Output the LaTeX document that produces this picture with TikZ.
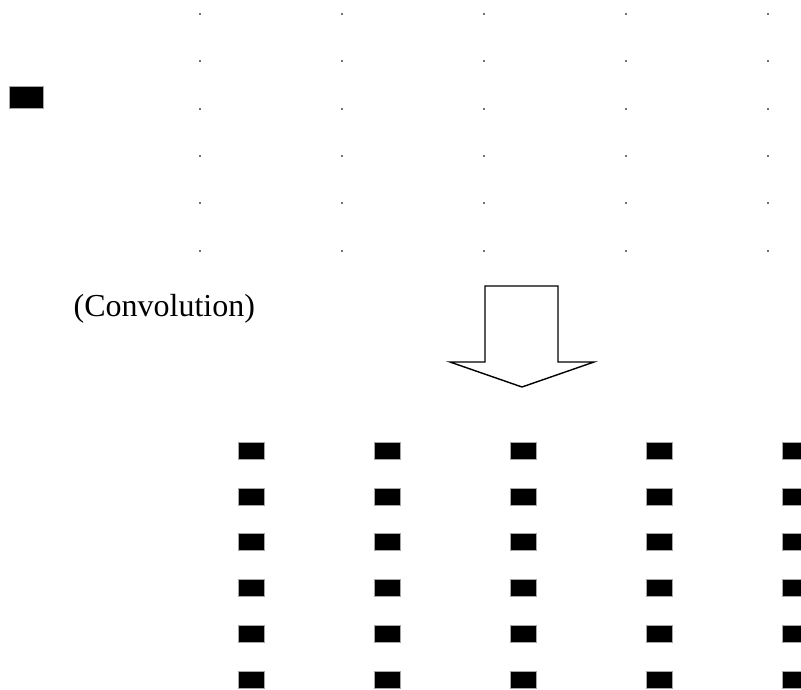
\documentclass[tikz,border=0pt]{standalone}
\usepackage{fontspec}
\setmainfont{Liberation Serif}
\begin{document}
\begin{tikzpicture}[x=1pt,y=-1pt,
  griddot/.style={fill=black!55,draw=none},
  blockmark/.style={fill=black,draw=black!35,line width=0.5pt},
  bigarrow/.style={draw=black,line width=1.4pt,fill=white,line join=miter}]
\useasboundingbox (0,0) rectangle (801,689);
% sparse input grid of dots
\foreach \i in {0,...,4}{
  \foreach \j in {0,...,5}{
    \fill[griddot] ({200+142*\i-0.9},{14+47.33*\j-0.9}) rectangle ++(1.8,1.8);
  }
}
% single kernel block
\draw[blockmark] (9,86) rectangle (43,108);
% label
\node[anchor=base west,inner sep=0pt,font=\fontsize{32}{38}\selectfont] (lbl) at (73.5,316) {(Convolution)};
% hollow down arrow
\draw[bigarrow] (485,286) -- (558,286) -- (558,362) -- (594,362) -- (522,387)
  -- (450,362) -- (485,362) -- cycle;
% output grid of blocks
\foreach \i in {0,...,4}{
  \foreach \j in {0,...,5}{
    \draw[blockmark] ({238.3+136*\i},{442.3+45.7*\j}) rectangle ++(25.5,17);
  }
}
\end{tikzpicture}
\end{document}
